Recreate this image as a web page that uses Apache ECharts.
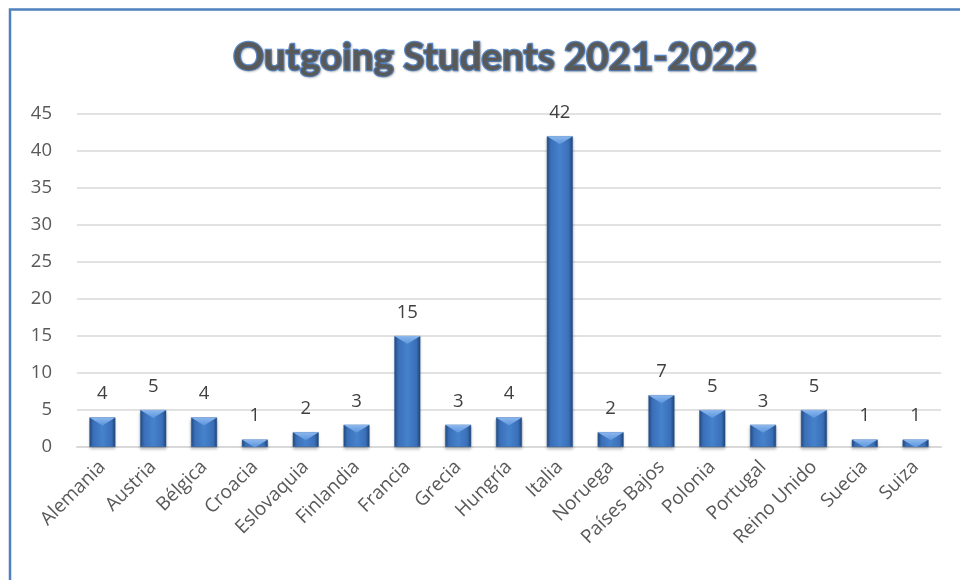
<!DOCTYPE html>
<html><head><meta charset="utf-8">
<script src="https://cdn.jsdelivr.net/npm/echarts@6/dist/echarts.min.js"></script>
<style>html,body{margin:0;padding:0;background:#fff}#c{width:960px;height:580px}</style>
</head><body><div id="c"></div>
<script>
const categories = ['Alemania','Austria','Bélgica','Croacia','Eslovaquia','Finlandia','Francia','Grecia','Hungría','Italia','Noruega','Países Bajos','Polonia','Portugal','Reino Unido','Suecia','Suiza'];
const students = [4,5,4,1,2,3,15,3,4,42,2,7,5,3,5,1,1];
const titleText = 'Outgoing Students 2021-2022';

const chart = echarts.init(document.getElementById('c'));
chart.setOption({
  animation: false,
  backgroundColor: '#fff',
  graphic: [{
    type: 'rect', shape: {x: 10, y: 9.5, width: 1000, height: 700},
    style: {fill: 'none', stroke: '#4F81BD', lineWidth: 2.5}, silent: true
  }],
  title: {
    text: titleText, left: 228, top: 33,
    textStyle: {
      fontFamily: 'Lato', fontWeight: 'bold', fontSize: 38.5, color: '#595959',
      textBorderColor: '#5A8AC6', textBorderWidth: 2.5,
      textShadowColor: 'rgba(0,0,0,0.2)', textShadowBlur: 2, textShadowOffsetX: 1, textShadowOffsetY: 1.5
    }
  },
  grid: {left: 77, right: 19, top: 114, bottom: 133, containLabel: false},
  xAxis: {
    type: 'category', data: categories,
    axisLine: {lineStyle: {color: '#D9D9D9', width: 2}},
    axisTick: {show: false},
    axisLabel: {rotate: 45, interval: 0, fontFamily: 'Open Sans', fontSize: 19, color: '#595959', margin: 17}
  },
  yAxis: {
    type: 'value', min: 0, max: 45, interval: 5,
    axisLine: {show: false}, axisTick: {show: false},
    splitLine: {lineStyle: {color: '#D9D9D9', width: 1.5}},
    axisLabel: {fontFamily: 'Open Sans', fontSize: 18.5, color: '#595959', margin: 25}
  },
  series: [{
    type: 'bar', data: students, barWidth: 26,
    itemStyle: {
      color: new echarts.graphic.LinearGradient(0, 0, 1, 0, [
        {offset: 0, color: '#234C82'},
        {offset: 0.15, color: '#3A6FB8'},
        {offset: 0.5, color: '#4682CC'},
        {offset: 0.85, color: '#3A6FB8'},
        {offset: 1, color: '#1F4577'}
      ]),
      borderColor: '#2A5894', borderWidth: 0.5,
      shadowColor: 'rgba(0,0,0,0.25)', shadowBlur: 3, shadowOffsetY: 2
    },
    label: {show: true, position: 'top', distance: 14, fontFamily: 'Open Sans', fontSize: 18.5, color: '#404040'}
  }, {
    type: 'pictorialBar', data: students, barGap: '-100%',
    symbol: 'path://M0,0 L26,0 L13,8 Z', symbolSize: [26, 8],
    symbolPosition: 'end', symbolOffset: [0, 0], z: 3, silent: true,
    itemStyle: {
      color: new echarts.graphic.LinearGradient(0, 0, 0, 1, [
        {offset: 0, color: '#8DB8EE'},
        {offset: 1, color: '#5B95DC'}
      ])
    }
  }]
});
</script></body></html>
